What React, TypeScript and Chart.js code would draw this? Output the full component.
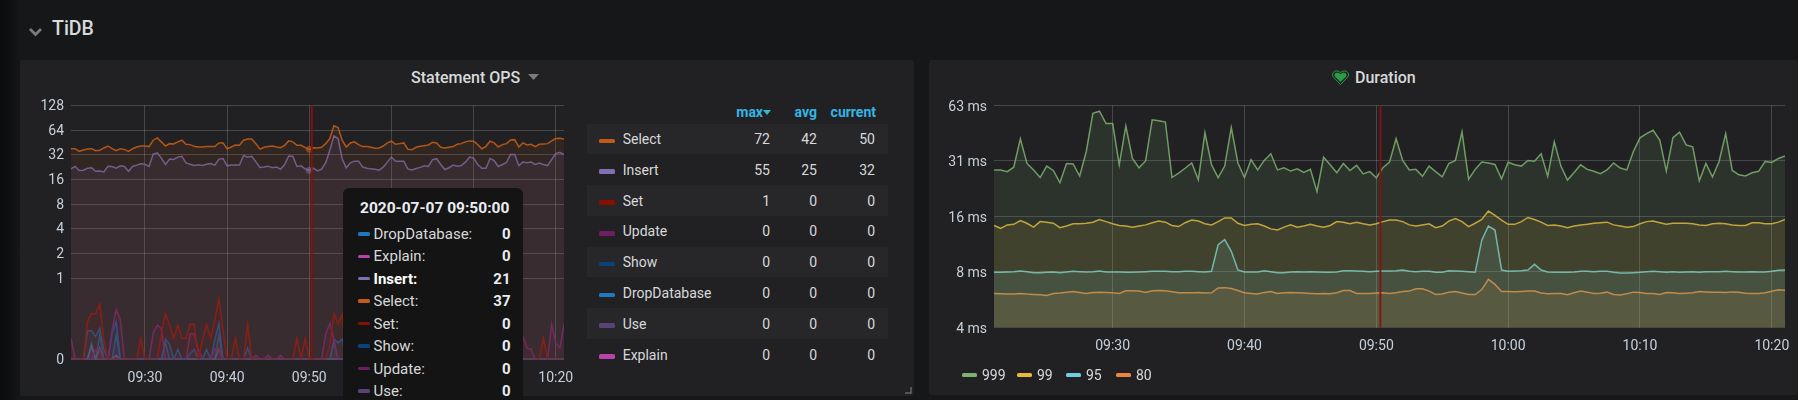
import React, { useEffect, useRef } from "react";
import { Chart, LinearScale } from "chart.js/auto";

// ---------- shared time axis ----------
const START_MINUTE = 561; // 09:21
const END_MINUTE = 621; // 10:21
const TICK_MINUTES = [570, 580, 590, 600, 610, 620];
const TICK_LABELS = ["09:30", "09:40", "09:50", "10:00", "10:10", "10:20"];
const ANNOTATION_MINUTE = 590.31;
const HOVER_MINUTE = 590;

// ---------- Statement OPS ----------
const opsSelect = [
  37.9,37.9,35.2,36.5,37.5,37.9,35.8,36.2,38.7,40.9,
  37.9,35.8,37.9,37.2,35.2,37.9,39.8,40.9,40.9,40.2,
  48.1,51.4,45.9,40.9,43.7,43.3,45.9,48.1,42.9,42.5,
  40.5,39.8,39.8,40.2,40.2,40.2,44.6,44.6,37.9,39.8,
  42.1,41.7,48.1,49.9,49.9,43.7,37.5,39.4,40.2,40.9,
  39.8,39.0,41.7,47.2,45.9,41.7,41.7,39.0,37.2,39.0,
  38.7,39.4,43.7,50.4,72.3,68.9,48.1,39.8,44.6,45.9,
  42.5,40.2,40.2,39.4,38.3,38.7,40.9,44.6,46.8,42.9,
  43.7,44.6,37.2,36.8,39.4,40.5,41.3,42.1,45.5,44.6,
  39.4,38.7,39.4,40.2,42.9,43.7,45.9,47.2,46.8,42.5,
  37.9,40.5,46.8,44.6,39.8,42.5,43.7,48.5,48.9,39.8,
  44.6,42.1,42.9,40.2,42.9,43.3,43.7,47.2,50.4,50.9,49.9,
];
const opsInsert = [
  21.5,23,20.5,20.7,21.9,22.2,20.1,20.3,19.7,23.2,
  23,21.9,23.4,23,20.1,23,23.9,24.8,24.5,23,
  32.6,33.8,29.1,24.3,28.3,28,29.9,30.6,25.4,24.5,
  23.7,24.1,23.7,24.5,25,23.9,28.3,28.8,23.4,23.9,
  23.9,23.9,31.4,29.9,30.6,26.2,22.4,22.7,23.2,22.2,
  22.7,21.3,24.3,30.9,30.6,23,23.4,21.5,20.7,21.9,
  20.3,21.3,25.6,36.2,54.4,50.4,28.6,22.2,25.5,26.7,
  26.7,22.6,21.9,21.5,21.3,20.7,22.6,26,30,26.7,
  26.7,26.7,21.5,20.9,21.7,22.4,23.4,23,27.8,28.6,
  24.3,21.1,22.2,23.9,23.2,23.6,26,30,29.1,24.3,
  21.9,21.9,28.8,27.2,23,24.3,25.7,32.3,32.3,23.6,
  26,25.5,26,24.3,25.3,24.3,23.6,28,33,34.2,32,
];
const opsSet = [
  0,0,0,0,.46,.56,.56,.68,.24,0,
  0,0,0,0,0,0,0,.26,0,0,
  0,0,.32,.56,.42,.26,.42,.26,.26,.43,
  .43,0,.24,.43,.26,.49,.745,.36,0,0,
  .26,0,0,.43,0,0,0,0,0,0,
  0,0,0,0,0,.26,0,.26,0,0,
  0,0,0,.18,.56,.44,.55,0,0,0,
  0,0,0,0,0,0,0,0,0,0,
  0,0,0,0,0,0,0,0,0,0,
  0,0,0,0,0,0,0,0,0,0,
  0,0,0,0,0,0,0,0,0,0,
  0,0,0,0,0,.26,0,0,0,0,0,
];
const opsUpdate = [
  .26,0,0,0,0,0,.12,.12,0,0,
  .36,.61,.49,0,0,0,0,0,0,0,
  .32,.42,.38,0,0,0,0,0,0,.31,
  .31,.12,0,0,0,.13,.13,0,0,0,
  0,0,0,0,0,.05,0,0,.05,0,
  0,.05,0,0,0,0,0,0,0,0,
  0,0,.31,.44,.24,0,0,0,0,0,
  0,0,0,0,0,0,0,0,0,0,
  0,0,0,0,0,0,0,0,0,0,
  0,0,0,0,0,0,0,0,0,0,
  0,0,0,0,0,0,0,0,0,.3,
  .28,.14,.12,0,0,0,0,.43,.2,.14,.43,
];
const opsShow = [
  0,0,0,0,.35,.35,.28,.38,.12,0,
  .32,.46,0,0,0,0,0,0,0,0,
  0,0,0,.25,.18,0,.12,0,0,.07,
  .12,0,0,.12,0,.24,.44,0,0,0,
  0,0,0,.14,0,0,0,0,0,0,
  0,0,0,0,0,0,0,0,0,0,
  0,0,0,0,.25,.2,.25,0,0,0,
  0,0,0,0,0,0,0,0,0,0,
  0,0,0,0,0,0,0,0,0,0,
  0,0,0,0,0,0,0,0,0,0,
  0,0,0,0,0,0,0,0,0,0,
  0,0,0,0,0,0,0,0,0,0,0,
];
const opsDropDatabase = [
  0,0,0,0,0,.2,0,.3,0,0,
  0,.3,0,0,0,0,0,0,0,0,
  0,0,0,.2,0,0,0,0,0,0,
  0,0,0,0,0,0,.3,0,0,0,
  0,0,0,0,0,0,0,0,0,0,
  0,0,0,0,0,0,0,0,0,0,
  0,0,0,0,.2,0,0,0,0,0,
  0,0,0,0,0,0,0,0,0,0,
  0,0,0,0,0,0,0,0,0,0,
  0,0,0,0,0,0,0,0,0,0,
  0,0,0,0,0,0,0,0,0,0,
  0,0,0,0,0,0,0,0,0,0,0,
];
const opsUse = [
  0,0,0,0,0,.16,0,.14,0,0,
  0,.05,0,0,0,0,0,0,0,0,
  0,0,0,0,0,0,0,0,0,0,
  0,0,0,0,0,0,.13,0,0,0,
  0,0,0,0,0,0,0,0,0,0,
  0,0,0,0,0,0,0,0,0,0,
  0,0,0,0,0,0,0,0,0,0,
  0,0,0,0,0,0,0,0,0,0,
  0,0,0,0,0,0,0,0,0,0,
  0,0,0,0,0,0,0,0,0,0,
  0,0,0,0,0,0,0,0,0,0,
  0,0,0,0,0,0,0,0,0,0,0,
];
const opsExplain = [
  0,0,0,0,0,0,0,0,0,0,
  0,0,0,0,0,0,0,0,0,0,
  0,0,0,0,0,0,0,0,0,0,
  0,0,0,0,0,0,0,0,0,0,
  0,0,0,0,0,0,0,0,0,0,
  0,0,0,0,0,0,0,0,0,0,
  0,0,0,0,0,0,0,0,0,0,
  0,0,0,0,0,0,0,0,0,0,
  0,0,0,0,0,0,0,0,0,0,
  0,0,0,0,0,0,0,0,0,0,
  0,0,0,0,0,0,0,0,0,0,
  0,0,0,0,0,0,0,0,0,0,0,
];
const opsTicks = [0, 1, 2, 4, 8, 16, 32, 64, 128];

const legendNames = ["Select", "Insert", "Set", "Update", "Show", "DropDatabase", "Use", "Explain"];
const legendColors = ["#C15C17", "#806EB7", "#890F02", "#6D1F62", "#0A437C", "#1F78C1", "#584477", "#BA43A9"];
const legendMax = [72, 55, 1, 0, 0, 0, 0, 0];
const legendAvg = [42, 25, 0, 0, 0, 0, 0, 0];
const legendCurrent = [50, 32, 0, 0, 0, 0, 0, 0];

const tooltipTitle = "2020-07-07 09:50:00";
const tooltipNames = ["DropDatabase", "Explain", "Insert", "Select", "Set", "Show", "Update", "Use"];
const tooltipColors = ["#1F78C1", "#BA43A9", "#806EB7", "#C15C17", "#890F02", "#0A437C", "#6D1F62", "#584477"];
const tooltipValues = [0, 0, 21, 37, 0, 0, 0, 0];

// ---------- Duration ----------
const dur999 = [
  28.6,28.6,28,29.6,42.2,31,28.6,26,30,28.4,
  24.4,31,30.8,26.5,36,58,59.5,51,51,30.5,
  49.5,33,29.4,32,53.5,52.8,52,26,27.5,29.2,
  31.2,25.3,45.5,30.5,26,30,48.5,31.2,26,32.5,
  28.6,32.2,35,28.6,29.4,28.2,29,27.7,28.8,21.8,
  33.5,30.5,27.6,31,28.4,30.3,27.2,28,25.9,29.4,
  31.5,42.2,32.2,28.6,28.8,26.4,30,28,26.2,31,
  32.2,46,25.5,28.8,31.6,31.2,30.6,25.6,31.5,30.5,
  30,32.2,31.9,35,26.4,40.6,30,25.2,27.7,30.5,
  28.8,28.1,27.3,28.6,31.2,29.3,28.6,36,42.7,45,
  46.9,41.5,28.2,42.8,45.8,39.1,38.2,25,31,26.2,
  31.8,45,28.4,26.9,26.5,27.6,28.1,31.8,31.4,33,34,
];
const dur99 = [
  14.3,13.8,14.4,14.5,15.2,14.7,14,15,14.9,14.7,
  13.9,14.2,14.6,14.6,14.7,14.9,15.4,15,14.6,14.3,
  14.2,14,14.2,14.4,14.8,15.1,14.9,14.3,14.1,14.8,
  15.3,15.1,14.6,14.4,15,15.7,15.7,14.7,14.3,14.5,
  14.6,14.2,13.7,13.5,14,14.4,14,14.2,14.5,14.2,
  14,14.3,15,14.9,14.6,14.9,14.6,14.4,14.6,15,
  15.3,15.3,15,14.4,14.2,14.4,14.6,13.9,14.2,15.1,
  15.6,15,14.1,14.7,15.4,17.1,16.2,15.3,14.5,14.5,
  15,15.8,15.4,14.9,14.3,14.4,14.2,13.9,14.2,14.4,
  14.5,14.7,14.8,14.9,14.4,14.2,14,14.1,14.6,15,
  15.1,14.8,14.5,14.7,14.7,14.7,14.6,14.4,14.3,14.6,
  14.7,14.6,14.4,14.3,14.3,14.8,14.8,14.6,14.6,14.9,15.4,
];
const dur95 = [
  7.97,7.97,8,8.03,8.1,8.03,7.93,7.93,7.97,8,
  7.93,8,8.07,8.03,8,8.03,8.1,8,8,8,
  7.97,7.97,8,8.03,8.07,8.07,8.07,8.03,8.03,8.07,
  8.07,8.03,8,8.07,11.24,11.97,10.35,8.2,8,8,
  8,8.13,8.03,7.93,7.93,8,8.03,8,8.03,8,
  7.97,7.97,8,8.13,8.13,8.1,8.07,8.03,8.07,8.1,
  8.1,8.13,8.2,8.07,8.03,8.07,8.07,7.97,7.97,8.13,
  8.1,8.07,8.03,7.97,11.9,14.2,13.5,8.2,8.07,8.1,
  8.13,8.2,8.8,8.2,8,7.97,7.97,7.97,8,8.07,
  8.07,8.03,8.07,8.07,7.97,7.9,7.9,7.93,7.97,8.03,
  8.07,8.03,7.97,8.03,7.97,8,8.03,7.97,8.03,8.03,
  8.03,8.07,8.03,8,8,8.03,8,8,8.07,8.17,8.2,
];
const dur80 = [
  6.12,6.09,6.07,6.07,6.12,6.07,6.04,6.02,5.97,6.12,
  6.15,6.22,6.27,6.2,6.12,6.2,6.22,6.2,6.17,6.12,
  6.32,6.32,6.3,6.2,6.32,6.35,6.32,6.25,6.17,6.17,
  6.17,6.2,6.15,6.17,6.55,6.58,6.5,6.35,6.17,6.12,
  6.07,6.2,6.27,6.12,6.17,6.2,6.17,6.15,6.12,6.09,
  6.12,6.09,6.17,6.35,6.35,6.12,6.12,6.12,6.15,6.17,
  6.12,6.17,6.27,6.3,6.48,6.48,6.3,6.04,6.07,6.22,
  6.27,6.15,6.04,6.04,6.42,7.3,6.85,6.27,6.27,6.25,
  6.27,6.3,6.3,6.15,6.09,6.12,6.12,6.02,6.17,6.3,
  6.22,6.12,6.14,6.22,6.04,6.01,6.09,6.22,6.19,6.11,
  6.11,6.04,6.19,6.17,6.11,6.14,6.17,6.27,6.24,6.22,
  6.22,6.19,6.24,6.22,6.14,6.11,6.11,6.17,6.29,6.4,6.37,
];
const durTicks = [4, 8, 16, 32, 64];
const durTickLabels = ["4 ms", "8 ms", "16 ms", "31 ms", "63 ms"];
const durNames = ["999", "99", "95", "80"];
const durColors = ["#7EB26D", "#EAB839", "#6ED0E0", "#EF843C"];

// ---------- helpers ----------
const TEXT = "#d8d9da";
const TICK = "#c7d0d9";
const GRID = "rgba(255,255,255,0.17)";
const FONT = "Roboto, sans-serif";

const SYM_KNEE = 3.296;
const symForward = (v: number) => (v <= 1 ? v * SYM_KNEE : SYM_KNEE + Math.log2(v));

class SymlogScale extends LinearScale {
  static id = "symlog";
  static defaults = {};
  getPixelForValue(value: number) {
    return this.getPixelForDecimal(symForward(value) / symForward(this.max));
  }
}
Chart.register(SymlogScale as any);

const toPoints = (values: number[]) =>
  values.map((y, i) => ({ x: START_MINUTE + i / 2, y }));

const hexA = (hex: string, a: number) => {
  const n = parseInt(hex.slice(1), 16);
  return `rgba(${(n >> 16) & 255},${(n >> 8) & 255},${n & 255},${a})`;
};

const line = (
  label: string,
  values: number[],
  color: string,
  fillAlpha: number,
  lineAlpha = 0.85,
  hover = false,
) => ({
  label,
  data: toPoints(values),
  borderColor: hexA(color, lineAlpha),
  borderWidth: 1.5,
  backgroundColor: hexA(color, fillAlpha),
  fill: "start",
  tension: 0,
  pointRadius: hover ? values.map((_, i) => (START_MINUTE + i / 2 === HOVER_MINUTE ? 3.5 : 0)) : 0,
  pointBackgroundColor: hexA(color, 0.5),
  pointBorderWidth: 0,
});

const markers = {
  id: "markers",
  afterDatasetsDraw(chart: any) {
    const { ctx, chartArea: a, scales } = chart;
    const x = scales.x.getPixelForValue(ANNOTATION_MINUTE);
    ctx.save();
    ctx.strokeStyle = "#8a0f0f";
    ctx.lineWidth = 1.8;
    ctx.beginPath();
    ctx.moveTo(x, a.top);
    ctx.lineTo(x, a.bottom);
    ctx.stroke();
    ctx.restore();
  },
};

function xAxis(height: number, padding: number) {
  return {
    type: "linear",
    min: START_MINUTE,
    max: END_MINUTE,
    afterBuildTicks: (s: any) => {
      s.ticks = TICK_MINUTES.map((value) => ({ value }));
    },
    afterFit: (s: any) => {
      s.height = height;
      s.paddingLeft = 0;
      s.paddingRight = 0;
    },
    grid: { color: GRID, drawTicks: false },
    border: { display: false },
    ticks: {
      color: TICK,
      font: { family: FONT, size: 14 },
      padding,
      autoSkip: false,
      maxRotation: 0,
      callback: (v: number) => TICK_LABELS[TICK_MINUTES.indexOf(v)] ?? "",
    },
  };
}

function ChartCanvas({ config, style }: { config: () => any; style: React.CSSProperties }) {
  const ref = useRef<HTMLCanvasElement>(null);
  useEffect(() => {
    const chart = new Chart(ref.current as any, config());
    return () => chart.destroy();
  }, []);
  return (
    <canvas
      ref={ref}
      width={style.width as number}
      height={style.height as number}
      style={{ position: "absolute", display: "block", ...style }}
    />
  );
}

const opsConfig = () => ({
  type: "line",
  data: {
    datasets: [
      line("Select", opsSelect, legendColors[0], 0.1, 0.9, true),
      line("Insert", opsInsert, legendColors[1], 0.1, 0.78, true),
      line("Set", opsSet, legendColors[2], 0.1, 0.95),
      line("Update", opsUpdate, legendColors[3], 0.1, 0.95),
      line("Show", opsShow, "#0f5596", 0.1, 0.9),
      line("DropDatabase", opsDropDatabase, legendColors[5], 0.08, 0.55),
      line("Use", opsUse, "#6f6090", 0.1, 0.8),
      line("Explain", opsExplain, legendColors[7], 0.1, 0.5),
    ],
  },
  options: {
    animation: false,
    responsive: false,
    devicePixelRatio: 1,
    layout: { padding: { top: 15.3, left: 0, right: 16, bottom: 0 } },
    plugins: { legend: { display: false }, tooltip: { enabled: false } },
    events: [],
    scales: {
      x: xAxis(40.7, 11),
      y: {
        type: "symlog",
        min: 0,
        max: 128,
        afterBuildTicks: (s: any) => {
          s.ticks = opsTicks.map((value) => ({ value }));
        },
        afterFit: (s: any) => {
          s.width = 51;
        },
        grid: { color: GRID, drawTicks: false },
        border: { display: false },
        ticks: {
          color: TICK,
          font: { family: FONT, size: 14 },
          padding: 7,
          labelOffset: 1,
          autoSkip: false,
          callback: (v: number) => String(v),
        },
      },
    },
  },
  plugins: [markers],
});

const durConfig = () => ({
  type: "line",
  data: {
    datasets: [
      line(durNames[0], dur999, durColors[0], 0.12),
      line(durNames[1], dur99, durColors[1], 0.12),
      line(durNames[2], dur95, durColors[2], 0.12),
      line(durNames[3], dur80, durColors[3], 0.12),
    ],
  },
  options: {
    animation: false,
    responsive: false,
    devicePixelRatio: 1,
    layout: { padding: { top: 15, left: 0, right: 13, bottom: 0 } },
    plugins: { legend: { display: false }, tooltip: { enabled: false } },
    events: [],
    scales: {
      x: xAxis(72.5, 11),
      y: {
        type: "logarithmic",
        min: 4,
        max: 64,
        afterBuildTicks: (s: any) => {
          s.ticks = durTicks.map((value) => ({ value }));
        },
        afterFit: (s: any) => {
          s.width = 65;
        },
        grid: { color: GRID, drawTicks: false },
        border: { display: false },
        ticks: {
          color: TICK,
          font: { family: FONT, size: 14 },
          padding: 7,
          labelOffset: 2,
          autoSkip: false,
          callback: (v: number) => durTickLabels[durTicks.indexOf(v)] ?? "",
        },
      },
    },
  },
  plugins: [markers],
});

const abs = (s: React.CSSProperties): React.CSSProperties => ({ position: "absolute", whiteSpace: "nowrap", ...s });

const Swatch = ({ x, y, color, w = 15, h = 4 }: { x: number; y: number; color: string; w?: number; h?: number }) => (
  <div style={abs({ left: x, top: y - h / 2, width: w, height: h, background: color, borderRadius: 1.5 })} />
);

// vertical centre helper: a text box with a fixed line-height
const Txt = ({ x, y, right, children, style }: any) => (
  <div
    style={abs({
      ...(right !== undefined ? { right: 1798 - right } : { left: x }),
      top: y - 10,
      height: 20,
      lineHeight: "20px",
      fontSize: 14,
      color: TEXT,
      ...style,
    })}
  >
    {children}
  </div>
);

const ROW_Y0 = 138.9;
const ROW_H = 30.8;

export default function App() {
  return (
    <div
      style={{
        position: "fixed",
        left: 0,
        top: 0,
        width: 1798,
        height: 400,
        overflow: "hidden",
        background: "#161719",
        fontFamily: FONT,
      }}
    >
      <div style={abs({ left: 0, top: 0, width: 20, height: 400, background: "linear-gradient(90deg,#0b0c0e 0%,#0e0f11 50%,#161719 100%)" })} />

      {/* row header */}
      <svg style={abs({ left: 28, top: 27, width: 15, height: 10 })} viewBox="0 0 15 10">
        <path d="M2 2 L7.5 7.5 L13 2" fill="none" stroke="#7b7b7b" strokeWidth="2.8" />
      </svg>
      <Txt x={52} y={29} style={{ fontSize: 19.5, fontWeight: 500, color: "#d8d9da" }}>TiDB</Txt>

      {/* panels */}
      <div style={abs({ left: 20, top: 60, width: 894, height: 336, background: "#212124", borderRadius: 3 })} />
      <div style={abs({ left: 929, top: 60, width: 869, height: 335, background: "#212124", borderRadius: 3 })} />

      {/* panel titles */}
      <Txt x={411} y={78} style={{ fontWeight: 500, fontSize: 16 }}>Statement OPS</Txt>
      <svg style={abs({ left: 528, top: 74, width: 11, height: 6 })} viewBox="0 0 11 6">
        <polygon points="0,0 11,0 5.5,6" fill="#7b7b7b" />
      </svg>
      <svg style={abs({ left: 1332, top: 69, width: 17, height: 17 })} viewBox="0 0 24 24">
        <path d="M12 22 L1.5 11 C-1.5 5 5 -0.5 12 5 C19 -0.5 25.5 5 22.5 11 Z" fill="none" stroke="#299c46" strokeWidth="1.4" />
        <path d="M12 18.5 L4 10.5 C2 6 7 3 12 7.5 C17 3 22 6 20 10.5 Z" fill="#299c46" />
      </svg>
      <Txt x={1355} y={78} style={{ fontWeight: 500, fontSize: 16 }}>Duration</Txt>

      {/* charts */}
      <ChartCanvas config={opsConfig} style={{ left: 20, top: 90, width: 560, height: 310 }} />
      <ChartCanvas config={durConfig} style={{ left: 929, top: 90, width: 869, height: 310 }} />

      {/* OPS table legend */}
      <Txt right={763} y={112} style={{ color: "#33b5e5", fontWeight: 700 }}>max</Txt>
      <svg style={abs({ left: 763, top: 110, width: 8, height: 5 })} viewBox="0 0 8 5">
        <polygon points="0,0 8,0 4,5" fill="#33b5e5" />
      </svg>
      <Txt right={817} y={112} style={{ color: "#33b5e5", fontWeight: 700 }}>avg</Txt>
      <Txt right={876} y={112} style={{ color: "#33b5e5", fontWeight: 700 }}>current</Txt>
      {legendNames.map((name, i) => {
        const y = ROW_Y0 + i * ROW_H;
        return (
          <React.Fragment key={name}>
            {i % 2 === 0 && (
              <div style={abs({ left: 587, top: y - ROW_H / 2, width: 301, height: ROW_H, background: "#27272a" })} />
            )}
            <Swatch x={599} y={y + 2} color={legendColors[i]} w={15.5} h={4.5} />
            <Txt x={622.7} y={y}>{name}</Txt>
            <Txt right={770} y={y}>{legendMax[i]}</Txt>
            <Txt right={817} y={y}>{legendAvg[i]}</Txt>
            <Txt right={875} y={y}>{legendCurrent[i]}</Txt>
          </React.Fragment>
        );
      })}

      {/* resize handle */}
      <svg style={abs({ left: 904, top: 386, width: 8, height: 8 })} viewBox="0 0 8 8">
        <path d="M7 1 V7 H1" fill="none" stroke="#666" strokeWidth="1.5" />
      </svg>

      {/* tooltip */}
      <div style={abs({ left: 343, top: 188, width: 180, height: 230, background: "#141414", borderRadius: 6 })} />
      <Txt x={360} y={207.5} style={{ fontWeight: 700, color: "#e9edf2", fontSize: 15.5 }}>{tooltipTitle}</Txt>
      {tooltipNames.map((name, i) => {
        const y = 233.8 + i * 22.45;
        const hi = name === "Insert";
        return (
          <React.Fragment key={name}>
            <Swatch x={357.5} y={y} color={tooltipColors[i]} w={12.5} h={3.5} />
            <Txt x={373.5} y={y} style={{ fontSize: 15, ...(hi ? { fontWeight: 700, color: "#fff" } : {}) }}>{name}:</Txt>
            <Txt right={510.5} y={y} style={{ fontSize: 15, fontWeight: 700, color: "#e9edf2" }}>{tooltipValues[i]}</Txt>
          </React.Fragment>
        );
      })}

      {/* Duration legend */}
      {durNames.map((name, i) => {
        const sx = [962, 1017, 1066, 1116][i];
        return (
          <React.Fragment key={name}>
            <Swatch x={sx} y={374.7} color={durColors[i]} w={15} h={4} />
            <Txt x={sx + 20} y={375}>{name}</Txt>
          </React.Fragment>
        );
      })}
    </div>
  );
}
